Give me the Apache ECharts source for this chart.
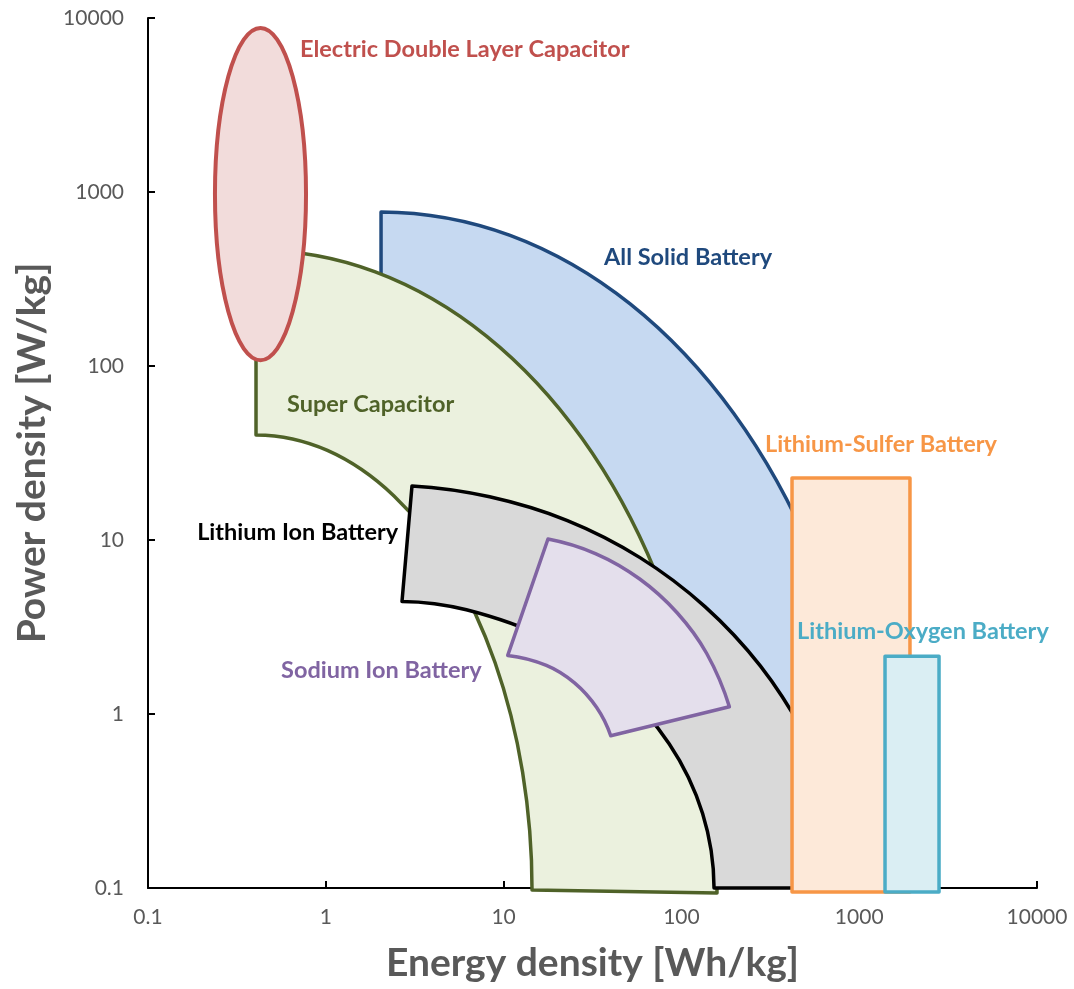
<!DOCTYPE html>
<html>
<head>
<meta charset="utf-8">
<script src="https://cdn.jsdelivr.net/npm/echarts@6/dist/echarts.min.js"></script>
<style>
  html, body { margin: 0; padding: 0; background: #fff; }
  #chart { width: 1074px; height: 989px; }
</style>
</head>
<body>
<div id="chart"></div>
<script>
// ── Data (Energy density Wh/kg, Power density W/kg) ──
const axisTicks = [0.1, 1, 10, 100, 1000, 10000];

// Electric double layer capacitor: ellipse bounding box
const edlcX = [0.238, 0.774];
const edlcY = [108, 8770];

// Super capacitor band
const superCapOuter = [[0.405, 464], [1.898, 347.4], [8.01, 148.5], [27.6, 38.4], [71.2, 6.59], [129.4, 0.846], [158.6, 0.0936]];
const superCapInner = [[14.45, 0.0974], [12.79, 0.463], [8.95, 1.977], [5.07, 6.88], [2.419, 17.9], [1.021, 32.7], [0.405, 40.1]];

// All solid battery band (its inner edge sits under other regions)
const solidOuter = [[2.045, 767.7], [10.88, 563], [51.7, 226.5], [197.1, 53.3], [550.5, 8.09], [1053, 0.901]];
const solidInner = [[464.5, 0.3204], [127.2, 0.924], [45.1, 7.68], [9.546, 83.1], [2.045, 183.8]];

// Lithium ion battery band
const liIonOuter = [[3.053, 20.43], [8.345, 17.71], [22.85, 12.93], [58.5, 7.92], [135.7, 4.142], [278.6, 1.885], [494.3, 0.7643], [696.7, 0.3473]];
const liIonInner = [[152.6, 0.1], [131.6, 0.268], [85.5, 0.6726], [42.99, 1.479], [17.54, 2.713], [6.177, 3.971], [2.683, 4.438]];

// Sodium ion battery band
const sodiumOuter = [[17.77, 10.13], [33.08, 8.33], [58.3, 5.97], [94.6, 3.82], [138.8, 2.227], [186.2, 1.10]];
const sodiumInner = [[40.04, 0.7493], [33.38, 1.09], [25.05, 1.511], [17.40, 1.905], [10.55, 2.172]];

// Rectangles
const sulfurX = [419, 1930];
const sulfurY = [0.095, 22.7];
const oxygenX = [1397, 2812];
const oxygenY = [0.095, 2.15];

// Labels
const labelNames = ['Electric Double Layer Capacitor', 'All Solid Battery', 'Super Capacitor',
  'Lithium-Sulfer Battery', 'Lithium Ion Battery', 'Lithium-Oxygen Battery', 'Sodium Ion Battery'];
const labelAt = [[0.716, 6640], [36.7, 418], [0.605, 60.5], [295, 35.2], [0.189, 11.1], [447, 3.0], [0.560, 1.79]];
const labelColors = ['#C0504D', '#1F497D', '#4F6228', '#F79646', '#000000', '#4BACC6', '#8064A2'];

// ── Regions: a run of several points is drawn smooth, runs are joined straight ──
const single = pts => pts.map(p => [p]);
const rectRuns = (xs, ys) => single([[xs[0], ys[0]], [xs[0], ys[1]], [xs[1], ys[1]], [xs[1], ys[0]]]);

const regions = [
  { name: 'All Solid Battery', runs: [solidOuter, ...single(solidInner)], stroke: '#1F497D', fill: '#C6D9F1' },
  { name: 'Super Capacitor', runs: [superCapOuter, superCapInner], stroke: '#4F6228', fill: '#EBF1DE' },
  { name: 'Electric Double Layer Capacitor', ellipse: true, stroke: '#C0504D', fill: '#F2DCDB' },
  { name: 'Lithium Ion Battery', runs: [liIonOuter, [[liIonOuter[liIonOuter.length - 1][0], 0.1]], liIonInner], stroke: '#000000', fill: '#D9D9D9' },
  { name: 'Sodium Ion Battery', runs: [sodiumOuter, sodiumInner], stroke: '#8064A2', fill: '#E4DFEC' },
  { name: 'Lithium-Sulfer Battery', runs: rectRuns(sulfurX, sulfurY), stroke: '#F79646', fill: '#FDE9D9' },
  { name: 'Lithium-Oxygen Battery', runs: rectRuns(oxygenX, oxygenY), stroke: '#4BACC6', fill: '#DAEEF3' },
];

const textGrey = '#595959';
const labelFont = 'Lato, "Noto Sans", sans-serif';

function f(n) { return n.toFixed(2); }
function unit(v) { const l = Math.hypot(v[0], v[1]) || 1; return [v[0] / l, v[1] / l]; }
function sub(a, b) { return [a[0] - b[0], a[1] - b[1]]; }
// mirror v about the direction c
function reflect(v, c) { const d = v[0] * c[0] + v[1] * c[1]; return [2 * d * c[0] - v[0], 2 * d * c[1] - v[1]]; }

// Smooth curve through pixel points: tangents from neighbours, handles a third of the chord
function smoothRun(pts) {
  const n = pts.length;
  if (n < 3) return n === 2 ? 'L' + f(pts[1][0]) + ' ' + f(pts[1][1]) + ' ' : '';
  const tan = pts.map((p, i) => (i > 0 && i < n - 1) ? unit(sub(pts[i + 1], pts[i - 1])) : null);
  tan[0] = unit(reflect(tan[1], unit(sub(pts[1], pts[0]))));
  tan[n - 1] = unit(reflect(tan[n - 2], unit(sub(pts[n - 1], pts[n - 2]))));
  let d = '';
  for (let i = 0; i < n - 1; i++) {
    const len = Math.hypot(pts[i + 1][0] - pts[i][0], pts[i + 1][1] - pts[i][1]) / 3;
    const c1 = [pts[i][0] + tan[i][0] * len, pts[i][1] + tan[i][1] * len];
    const c2 = [pts[i + 1][0] - tan[i + 1][0] * len, pts[i + 1][1] - tan[i + 1][1] * len];
    d += 'C' + f(c1[0]) + ' ' + f(c1[1]) + ' ' + f(c2[0]) + ' ' + f(c2[1]) + ' ' + f(pts[i + 1][0]) + ' ' + f(pts[i + 1][1]) + ' ';
  }
  return d;
}

function buildPath(runs, api) {
  let d = '';
  runs.forEach((run, ri) => {
    const pts = run.map(p => api.coord(p));
    d += (ri === 0 ? 'M' : 'L') + f(pts[0][0]) + ' ' + f(pts[0][1]) + ' ';
    d += smoothRun(pts);
  });
  return d + 'Z';
}

const chart = echarts.init(document.getElementById('chart'), null, { renderer: 'canvas' });

const regionSeries = regions.map((r, i) => ({
  type: 'custom',
  name: r.name,
  z: 2 + i,
  silent: true,
  data: r.ellipse ? [[edlcX[0], edlcY[0]]] : [r.runs[0][0]],
  renderItem: (params, api) => {
    let pathData;
    if (r.ellipse) {
      const a = api.coord([edlcX[0], edlcY[0]]);
      const b = api.coord([edlcX[1], edlcY[1]]);
      const cx = (a[0] + b[0]) / 2, cy = (a[1] + b[1]) / 2;
      const rx = Math.abs(b[0] - a[0]) / 2, ry = Math.abs(b[1] - a[1]) / 2;
      pathData = 'M' + f(cx - rx) + ' ' + f(cy) + ' A' + f(rx) + ' ' + f(ry) + ' 0 1 0 ' + f(cx + rx) + ' ' + f(cy) +
        ' A' + f(rx) + ' ' + f(ry) + ' 0 1 0 ' + f(cx - rx) + ' ' + f(cy) + ' Z';
    } else {
      pathData = buildPath(r.runs, api);
    }
    return {
      type: 'path',
      shape: { pathData: pathData },
      style: { fill: r.fill, stroke: r.stroke, lineWidth: r.ellipse ? 4 : 3.5, lineJoin: 'round' },
    };
  },
}));

const labelSeries = {
  type: 'custom',
  name: 'labels',
  z: 20,
  silent: true,
  data: labelAt,
  renderItem: (params, api) => {
    const p = api.coord(labelAt[params.dataIndex]);
    return {
      type: 'text',
      x: p[0], y: p[1],
      style: {
        text: labelNames[params.dataIndex],
        fill: labelColors[params.dataIndex],
        font: 'bold 23.5px ' + labelFont,
        align: 'left',
        verticalAlign: 'middle',
      },
    };
  },
};

const tickFormatter = v => (v < 1 ? (+v).toFixed(1) : String(Math.round(v)));

function axisBase(margin) {
  return {
    type: 'log',
    logBase: 10,
    min: axisTicks[0],
    max: axisTicks[axisTicks.length - 1],
    axisLine: { show: true, lineStyle: { color: '#000', width: 2 } },
    axisTick: { show: true, inside: true, length: 7, lineStyle: { color: '#000', width: 2 } },
    minorTick: { show: false },
    splitLine: { show: false },
    axisLabel: { formatter: tickFormatter, color: textGrey, fontSize: 21, fontFamily: 'Lato', margin: margin },
    nameLocation: 'middle',
    nameTextStyle: { color: textGrey, fontSize: 39, fontWeight: 'bold', fontFamily: labelFont },
  };
}

chart.setOption({
  animation: false,
  backgroundColor: '#fff',
  grid: { left: 148, right: 37, top: 18, bottom: 101 },
  xAxis: Object.assign(axisBase(19), { name: 'Energy density [Wh/kg]', nameGap: 56 }),
  yAxis: Object.assign(axisBase(24), { name: 'Power density [W/kg]', nameGap: 96, nameRotate: 90 }),
  series: [...regionSeries, labelSeries],
});
</script>
</body>
</html>
